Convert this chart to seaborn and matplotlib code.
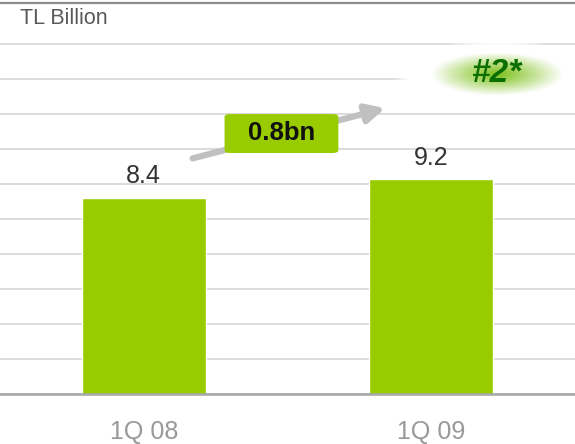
import matplotlib
matplotlib.use("Agg")
import matplotlib.pyplot as plt
import numpy as np
import pandas as pd
import seaborn as sns
from matplotlib.patches import FancyBboxPatch
from matplotlib.lines import Line2D

# Data
quarters = ["1Q 08", "1Q 09"]
values = [8.4, 9.2]
value_labels = ["8.4", "9.2"]
growth_label = "0.8bn"
rank_label = "#2*"
unit_label = "TL Billion"

df = pd.DataFrame({"quarter": quarters, "value": values})

sns.set_style("white")
plt.rcParams["font.family"] = ["Liberation Sans", "DejaVu Sans"]

fig = plt.figure(figsize=(5.75, 4.44), dpi=100)
ax = fig.add_axes([0, 50 / 444, 1, 394 / 444])

sns.barplot(data=df, x="quarter", y="value", color="#99cc00", width=0.43,
            saturation=1, ax=ax, zorder=3)

ax.set_yticks(np.arange(0, 15.1, 1.5))
ax.yaxis.grid(True, color="#d9d9d9", linewidth=1.3, zorder=0)
ax.set_axisbelow(True)
ax.tick_params(axis="y", left=False, labelleft=False)
ax.tick_params(axis="x", length=0, labelsize=18, labelcolor="#999999", pad=19)
ax.set_xlabel("")
ax.set_ylabel("")
for s in ["left", "right", "top"]:
    ax.spines[s].set_visible(False)
ax.spines["bottom"].set_color("#a6a6a6")
ax.spines["bottom"].set_linewidth(1.8)
ax.spines["bottom"].set_zorder(4)

# value labels on bars
ax.bar_label(ax.containers[0], labels=value_labels, padding=7,
             fontsize=18, color="#333333")

# growth arrow behind the label box
ax.annotate("", xy=(0.84, 12.25), xytext=(0.17, 10.1),
            arrowprops=dict(arrowstyle="-|>,head_length=1.1,head_width=0.55",
                            color="#c0c0c0", lw=4.5, shrinkA=0, shrinkB=0),
            zorder=5)

# rounded box with growth text
box = FancyBboxPatch((0.281, 10.33), 0.396, 1.67,
                     boxstyle="round,pad=0,rounding_size=0.02",
                     facecolor="#99cc00", edgecolor="none", zorder=6,
                     mutation_aspect=6)
ax.add_patch(box)
ax.text(0.479, 11.17, growth_label, ha="center", va="center",
        fontsize=18.5, fontweight="bold", color="#111111", zorder=7)

# soft green glow behind rank label
nx, ny = 300, 120
gx, gy = np.meshgrid(np.linspace(-1, 1, nx), np.linspace(-1, 1, ny))
r = np.sqrt(gx ** 2 + gy ** 2)
green = np.array([0.50, 0.76, 0.12])
white = np.array([1.0, 1.0, 1.0])
t = np.clip(r / 0.62, 0, 1) ** 1.1
rgb = green[None, None, :] * (1 - t[..., None]) + white[None, None, :] * t[..., None]
alpha = np.clip((1 - r) / 0.15, 0, 1)
img = np.dstack([rgb, alpha])
ax.imshow(img, extent=(0.86, 1.6, 12.2, 15.2), aspect="auto",
          zorder=5, interpolation="bilinear")
ax.set_xlim(-0.5, 1.5)
ax.set_ylim(0, 16.89)
ax.text(1.229, 13.75, rank_label, ha="center", va="center", fontsize=24,
        fontweight="bold", fontstyle="italic", color="#0a6e00", zorder=7)

# unit label
fig.text(20 / 575, 1 - 19 / 444, unit_label, ha="left", va="center",
         fontsize=15.5, color="#595959")

# dark top rule from slide header
fig.add_artist(Line2D([0, 1], [1 - 3 / 444, 1 - 3 / 444], color="#8c8c8c",
                      linewidth=1.6, transform=fig.transFigure))

fig.savefig("out.png", dpi=100)
